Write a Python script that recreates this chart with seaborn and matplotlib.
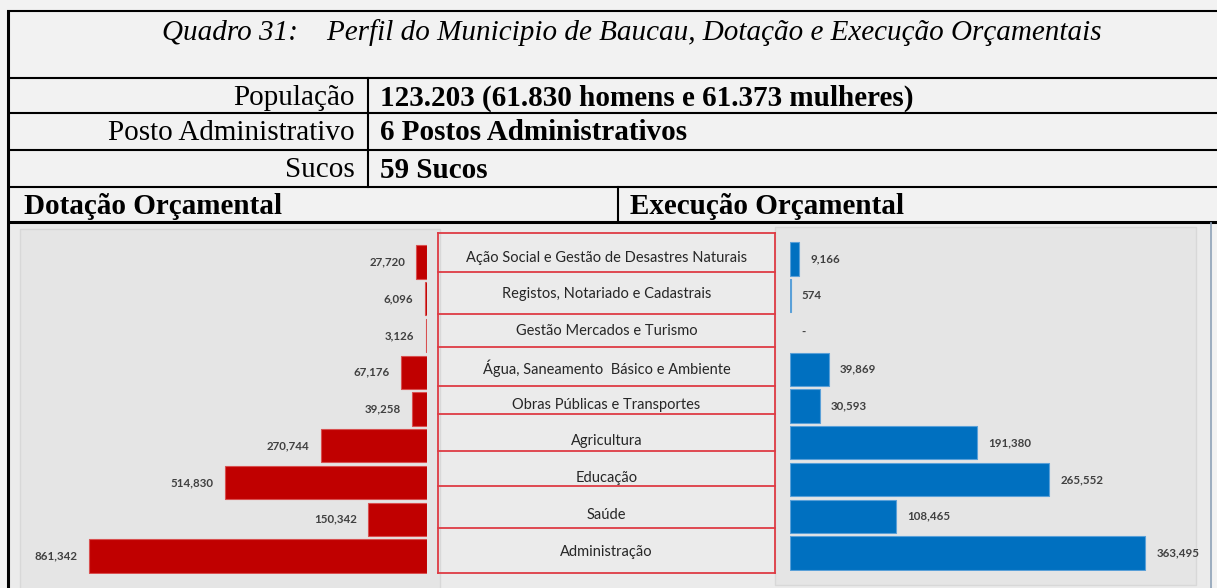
import numpy as np
import pandas as pd
import matplotlib
matplotlib.use("Agg")
import matplotlib.pyplot as plt
import seaborn as sns

# dados do quadro
areas = ["Ação Social e Gestão de Desastres Naturais", "Registos, Notariado e Cadastrais",
         "Gestão Mercados e Turismo", "Água, Saneamento  Básico e Ambiente",
         "Obras Públicas e Transportes", "Agricultura", "Educação", "Saúde", "Administração"]
dotacao = [27720, 6096, 3126, 67176, 39258, 270744, 514830, 150342, 861342]
execucao = [9166, 574, 0, 39869, 30593, 191380, 265552, 108465, 363495]

titulo = "Quadro 31:    Perfil do Municipio de Baucau, Dotação e Execução Orçamentais"
perfil_rotulos = ["População", "Posto Administrativo", "Sucos"]
perfil_valores = ["123.203 (61.830 homens e 61.373 mulheres)", "6 Postos Administrativos", "59 Sucos"]
cabecalhos = ["Dotação Orçamental", "Execução Orçamental"]

# limites das caixas de rótulos (em unidades de categoria)
caixa_limites = [-0.79, 0.27, 1.41, 2.31, 3.37, 4.14, 5.14, 6.10, 7.24, 8.46]

df = pd.DataFrame({"area": areas, "dotacao": dotacao, "execucao": execucao})

W, H = 1217, 588
RED, BLUE = "#C00000", "#0070C0"
BOX = "#DE3B44"
LBL = "#404040"

def rect(l, t, r, b):
    return [l / W, 1 - b / H, (r - l) / W, (b - t) / H]

fig = plt.figure(figsize=(W / 100, H / 100), dpi=100)
fig.patch.set_facecolor("#f2f2f2")

bg = fig.add_axes([0, 0, 1, 1])
bg.set_xlim(0, W)
bg.set_ylim(H, 0)
bg.axis("off")

# zona do gráfico
bg.add_patch(plt.Rectangle((9, 223), 1202, 365, color="#ebebeb", zorder=0))
bg.add_patch(plt.Rectangle((20, 229), 420, 360, fc="#e5e5e5", ec="#d8d8d8", lw=1, zorder=0))
bg.add_patch(plt.Rectangle((775, 227), 421, 358, fc="#e5e5e5", ec="#d8d8d8", lw=1, zorder=0))

# linhas da tabela
for y in [11, 78, 113, 150, 187]:
    bg.plot([7, W], [y, y], color="black", lw=1.5, solid_capstyle="butt")
bg.plot([7, W], [222, 222], color="black", lw=2.2, solid_capstyle="butt")
bg.plot([8, 8], [10, H], color="black", lw=2.2, solid_capstyle="butt")
bg.plot([368, 368], [78, 187], color="black", lw=1.5)
bg.plot([618, 618], [187, 222], color="black", lw=1.5)
bg.plot([1211, 1211], [223, H], color="#8ea2b8", lw=1.2)

serif = "Liberation Serif"
fs = 21
bg.text(632, 33, titulo, ha="center", va="center", fontsize=fs, style="italic", family=serif)
for i, (r, v) in enumerate(zip(perfil_rotulos, perfil_valores)):
    y = [98, 133, 170][i]
    bg.text(355, y, r, ha="right", va="center", fontsize=fs, family=serif)
    bg.text(380, y, v, ha="left", va="center", fontsize=fs, family=serif, weight="bold")
bg.text(24, 207, cabecalhos[0], ha="left", va="center", fontsize=fs, family=serif, weight="bold")
bg.text(630, 207, cabecalhos[1], ha="left", va="center", fontsize=fs, family=serif, weight="bold")

# dotação (barras vermelhas, viradas para a esquerda)
axL = fig.add_axes(rect(20, 243.6, 427, 574.4))
sns.barplot(data=df, x="dotacao", y="area", orient="h", color=RED, saturation=1,
            width=0.9, edgecolor="#d85050", linewidth=0.8, ax=axL)
axL.set_xlim(407 / 3.924e-4, 0)
axL.bar_label(axL.containers[0], labels=[f"{v:,}" for v in dotacao], padding=8,
              fontsize=8.3, color=LBL, weight="bold", family="Lato")

# execução (barras azuis)
axR = fig.add_axes(rect(790, 240.6, 1196, 571.4))
sns.barplot(data=df, x="execucao", y="area", orient="h", color=BLUE, saturation=1,
            width=0.9, edgecolor="#5aa0d8", linewidth=0.8, ax=axR)
axR.set_xlim(0, 406 / 9.77e-4)
for p in axR.patches:
    if p.get_width() == 0:
        p.set_linewidth(0)
axR.bar_label(axR.containers[0], labels=[f"{v:,}" if v else "-" for v in execucao], padding=8,
              fontsize=8.3, color=LBL, weight="bold", family="Lato")

for ax in (axL, axR):
    ax.set_facecolor("none")
    ax.set(xlabel="", ylabel="", xticks=[], yticks=[])
    for s in ax.spines.values():
        s.set_visible(False)

# caixas com os nomes das áreas
axM = fig.add_axes(rect(438, 243.6, 775, 574.4))
axM.set_xlim(0, 1)
axM.set_ylim(len(areas) - 0.5, -0.5)
axM.axis("off")
for e in caixa_limites:
    axM.plot([0, 1], [e, e], color=BOX, lw=1.3, clip_on=False)
axM.plot([0, 0], [caixa_limites[0], caixa_limites[-1]], color=BOX, lw=1.3, clip_on=False)
axM.plot([1, 1], [caixa_limites[0], caixa_limites[-1]], color=BOX, lw=1.3, clip_on=False)
for i, a in enumerate(areas):
    axM.text(0.5, i - 0.12, a, ha="center", va="center", fontsize=10.5, color="#262626", family="Lato")

fig.savefig("out.png", dpi=100, facecolor=fig.get_facecolor())
